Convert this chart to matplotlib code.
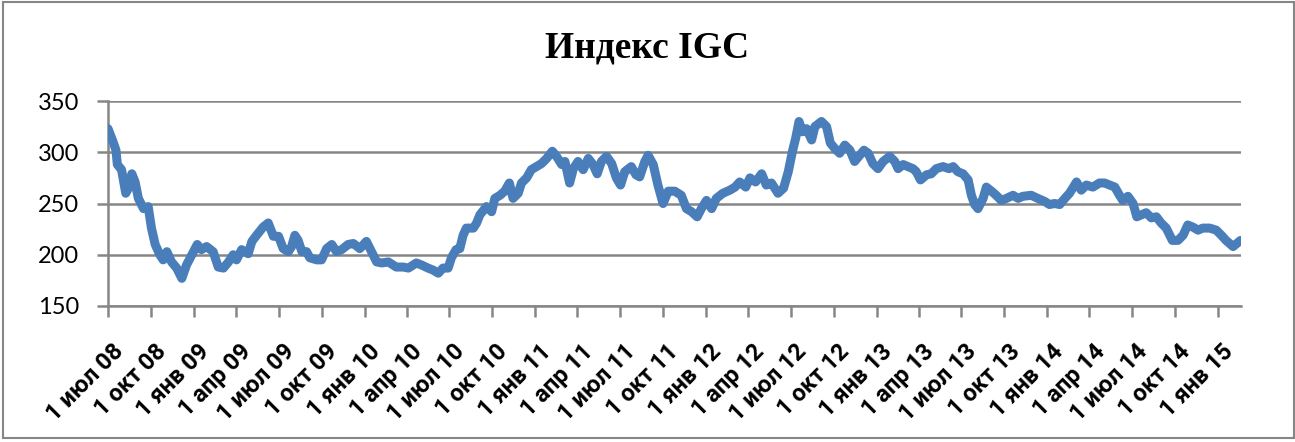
import matplotlib
matplotlib.use('Agg')
import matplotlib.pyplot as plt
import matplotlib.transforms as mtrans
import pandas as pd
from matplotlib.patches import Rectangle

# ---- data ----
start_date = '2008-07-01'
day_offsets = [
    0, 11, 17, 20, 29, 38, 44, 51, 58, 65, 76, 86, 93, 101, 111, 118, 126, 136, 147, 158,
    168, 183, 191, 200, 211, 225, 236, 247, 258, 268, 275, 286, 300, 308, 318, 332, 343, 354, 365, 375,
    386, 393, 400, 407, 415, 425, 432, 447, 457, 468, 479, 489, 500, 514, 525, 539, 553, 564, 575, 586,
    600,
    617, 632, 643, 660, 671, 685, 696, 707, 717, 728, 735, 745, 753, 760, 767, 782, 789, 796, 810, 821,
    828, 839, 849, 859, 867, 878, 885, 896, 906, 917, 928, 939, 951, 960, 971, 978, 988, 996, 1006, 1017,
    1028, 1038, 1047, 1056, 1067, 1078, 1088, 1097, 1106, 1120, 1130, 1138, 1149, 1156, 1167, 1177, 1188, 1199,
    1213, 1227, 1238, 1249, 1261, 1270, 1281, 1292, 1302, 1316, 1331, 1342, 1352, 1365, 1374, 1386, 1399, 1409, 1420, 1434,
    1446, 1456, 1465, 1472, 1479, 1486, 1495, 1506, 1513, 1527, 1538, 1546, 1555, 1566, 1577, 1588, 1598, 1607, 1618, 1627,
    1637, 1648, 1659, 1673, 1684, 1691, 1702, 1712, 1723, 1730, 1739, 1752, 1762, 1773, 1787, 1800,
    1809, 1819, 1830, 1841, 1848, 1855, 1862, 1873, 1880, 1891, 1901, 1912, 1923, 1937, 1948, 1958, 1976, 1990, 2005, 2015,
    2026, 2037, 2048, 2058, 2073, 2083, 2094, 2108, 2122, 2133, 2144, 2155, 2165, 2172, 2183, 2194, 2202, 2212, 2222, 2233,
    2244, 2254, 2265, 2278, 2290, 2301, 2311, 2322, 2333, 2343, 2358, 2372, 2383, 2393, 2408, 2416, 2424,
]
igc_values = [
    323, 310, 302, 288, 283, 260, 265, 279, 271, 255, 245, 247, 226, 210, 200, 195, 203, 193, 187, 177,
    190, 203, 210, 205, 208, 203, 188, 187, 193, 200, 195, 205, 201, 213, 219, 227, 231, 218, 218, 206,
    203, 208, 219, 214, 203, 203, 197, 195, 195, 206, 210, 203, 205, 210, 211, 206, 213, 203, 193, 192,
    193,
    188, 188, 187, 192, 190, 187, 185, 182, 187, 187, 197, 205, 206, 219, 226, 226, 231, 239, 247, 242,
    255, 258, 262, 270, 255, 260, 270, 275, 283, 286, 289, 294, 301, 296, 288, 291, 270, 284, 291, 283,
    294, 288, 279, 291, 296, 289, 275, 268, 281, 286, 278, 276, 291, 297, 288, 268, 250, 262,
    262, 258, 245, 242, 237, 245, 253, 245, 255, 260, 263, 266, 271, 266, 275, 271, 279, 268, 270, 260,
    265, 281, 301, 314, 330, 320, 323, 312, 325, 330, 325, 309, 304, 299, 307, 302, 291, 296, 302, 299,
    289, 284, 291, 296, 291, 284, 288, 286, 284, 281, 273, 278, 279, 284, 286, 284,
    286, 281, 279, 273, 258, 249, 245, 255, 266, 262, 258, 253, 255, 258, 255, 257, 258, 255, 252, 249,
    250, 249, 255, 260, 271, 263, 268, 266, 270, 270, 268, 266, 258, 253, 257, 250, 237, 239, 241, 236,
    237, 231, 226, 214, 214, 219, 229, 227, 224, 226, 226, 224, 219, 214, 208, 211, 214,
]
end_offset = 2425

tick_dates = ['2008-07-01', '2008-10-01', '2009-01-01', '2009-04-01', '2009-07-01', '2009-10-01',
              '2010-01-01', '2010-04-01', '2010-07-01', '2010-10-01', '2011-01-01', '2011-04-01',
              '2011-07-01', '2011-10-01', '2012-01-01', '2012-04-01', '2012-07-01', '2012-10-01',
              '2013-01-01', '2013-04-01', '2013-07-01', '2013-10-01', '2014-01-01', '2014-04-01',
              '2014-07-01', '2014-10-01', '2015-01-01']
tick_labels = ['1 июл 08', '1 окт 08', '1 янв 09', '1 апр 09', '1 июл 09', '1 окт 09',
               '1 янв 10', '1 апр 10', '1 июл 10', '1 окт 10', '1 янв 11', '1 апр 11',
               '1 июл 11', '1 окт 11', '1 янв 12', '1 апр 12', '1 июл 12', '1 окт 12',
               '1 янв 13', '1 апр 13', '1 июл 13', '1 окт 13', '1 янв 14', '1 апр 14',
               '1 июл 14', '1 окт 14', '1 янв 15']
y_ticks = [150, 200, 250, 300, 350]
title = 'Индекс IGC'

# ---- figure ----
W, H = 1295, 442
fig = plt.figure(figsize=(W / 100, H / 100), dpi=100)
grey = '#868686'

base = pd.Timestamp(start_date)
dates = base + pd.to_timedelta(day_offsets, unit='D')

ax = fig.add_axes([108 / W, 1 - 306 / H, (1241 - 108) / W, (306 - 101) / H])
ax.plot(dates, igc_values, color='#4A7EBB', lw=6.5, solid_joinstyle='round', solid_capstyle='round', zorder=3)
ax.set_ylim(y_ticks[0], y_ticks[-1])
ax.set_yticks(y_ticks)
ax.set_xlim(base, base + pd.Timedelta(days=end_offset))
ax.grid(axis='y', color=grey, lw=1.8)
ax.set_axisbelow(True)
for s in ['top', 'right']:
    ax.spines[s].set_visible(False)
for s in ['left', 'bottom']:
    ax.spines[s].set_color(grey)
    ax.spines[s].set_linewidth(1.8)

ax.set_xticks(pd.to_datetime(tick_dates))
ax.set_xticklabels(tick_labels, rotation=45, ha='right', rotation_mode='anchor',
                   fontweight='bold', fontsize=17, family=['Roboto', 'DejaVu Sans'])
ax.tick_params(axis='x', length=8, width=1.8, color=grey, pad=9)
ax.tick_params(axis='y', length=8, width=1.8, color=grey, pad=13, labelsize=17)
for lab in ax.get_yticklabels():
    lab.set_family(['Lato', 'DejaVu Sans'])
shift = mtrans.ScaledTranslation(4 / 100, -10 / 100, fig.dpi_scale_trans)
for lab in ax.get_xticklabels():
    lab.set_transform(lab.get_transform() + shift)

fig.text(0.5, 1 - 58 / H, title, ha='center', va='baseline', fontsize=27,
         fontweight='bold', family=['Liberation Serif', 'DejaVu Serif'])

fig.add_artist(Rectangle((3 / W, 1 - 438 / H), (1293.5 - 3) / W, (438 - 2) / H,
                         transform=fig.transFigure, fill=False, ec=grey, lw=1.5))

fig.savefig('out.png', dpi=100)
